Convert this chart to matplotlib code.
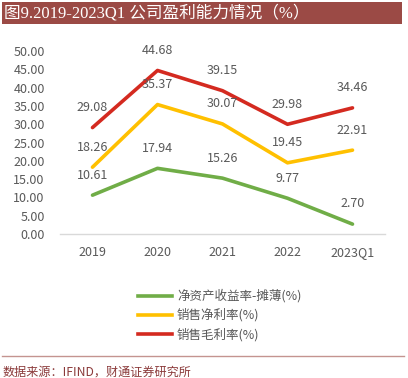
import matplotlib
matplotlib.use("Agg")
import matplotlib.pyplot as plt
from matplotlib.patches import Rectangle
from matplotlib.lines import Line2D

plt.rcParams['font.family'] = ['Noto Sans CJK SC', 'DejaVu Sans']

categories = ["2019", "2020", "2021", "2022", "2023Q1"]
roe = [10.61, 17.94, 15.26, 9.77, 2.70]
net_margin = [18.26, 35.37, 30.07, 19.45, 22.91]
gross_margin = [29.08, 44.68, 39.15, 29.98, 34.46]
series_names = ["净资产收益率-摊薄(%)", "销售净利率(%)", "销售毛利率(%)"]
yticks = [0, 5, 10, 15, 20, 25, 30, 35, 40, 45, 50]

colors = ["#70AD47", "#FFC000", "#D42A20"]
W, H = 408, 378
fig = plt.figure(figsize=(W/100, H/100), dpi=100)

# title bar
fig.patches.append(Rectangle((2/W, 1 - 24/H), 400/W, 22/H, transform=fig.transFigure,
                             facecolor="#9B4A45", edgecolor="none"))
fig.text(4/W, 1 - 13.5/H, "图9.2019-2023Q1 公司盈利能力情况（%）", color="white",
         fontsize=12, va="center", ha="left",
         family=['Liberation Serif', 'Noto Sans CJK SC'])

ax = fig.add_axes([60/W, 1 - 234/H, 325/W, 183/H])
x = list(range(len(categories)))
for vals, c in zip([roe, net_margin, gross_margin], colors):
    ax.plot(x, vals, color=c, lw=2.6, solid_capstyle='round')
    for xi, v in zip(x, vals):
        ax.annotate(f"{v:.2f}", (xi, v), xytext=(0, 14.5), textcoords="offset points",
                    ha="center", va="center", fontsize=9, color="#595959")

ax.set_xlim(-0.5, 4.5)
ax.set_ylim(0, 50)
ax.set_xticks(x)
ax.set_xticklabels(categories)
ax.set_yticks(yticks)
ax.set_yticklabels([f"{v:.2f}" for v in yticks])
ax.tick_params(axis='both', length=0, labelsize=9, labelcolor="#595959")
ax.tick_params(axis='x', pad=9)
ax.tick_params(axis='y', pad=11)
for s in ["top", "right", "left"]:
    ax.spines[s].set_visible(False)
ax.spines["bottom"].set_color("#D9D9D9")
ax.spines["bottom"].set_linewidth(1)

handles = [Line2D([0], [0], color=c, lw=2.6) for c in colors]
fig.legend(handles, series_names, loc="upper left", bbox_to_anchor=(127/W, 1 - 278/H),
           frameon=False, fontsize=9, handlelength=2.7, labelspacing=0.45,
           handletextpad=0.4, labelcolor="#595959")

# bottom separator and source
fig.add_artist(Line2D([2/W, 404/W], [1 - 356/H, 1 - 356/H], color="#C49490", lw=1,
                      transform=fig.transFigure))
fig.text(3/W, 1 - 372/H, "数据来源：IFIND，财通证券研究所", color="#8B3A3A", fontsize=8.7,
         va="center", ha="left")

fig.savefig("out.png", dpi=100)
